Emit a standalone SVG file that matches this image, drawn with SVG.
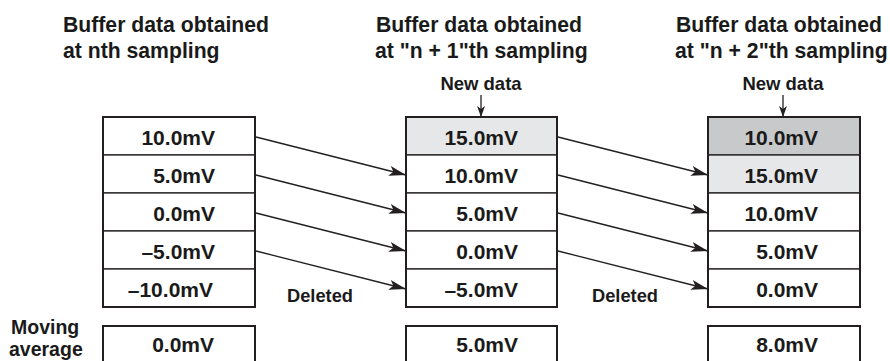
<svg xmlns="http://www.w3.org/2000/svg" width="890" height="361" viewBox="0 0 890 361">
<style>
text{font-family:"Liberation Sans",Arial,Helvetica,sans-serif;font-weight:bold;fill:#1a1a1a}
.t{font-size:21.2px}
.v{font-size:21px;text-anchor:end}
.s{font-size:18.3px}
.m{font-size:19.5px}
.c{font-size:18.5px;text-anchor:middle}
.cell{fill:#fff;stroke:#231f20;stroke-width:1.3}
.frame{fill:none;stroke:#231f20;stroke-width:2}
.g1{fill:#e6e7e8}
.g2{fill:#c8c9cb}
.con line{stroke:#231f20;stroke-width:1.3}
</style>
<defs>
<marker id="ah" markerUnits="userSpaceOnUse" markerWidth="19" markerHeight="12" refX="17" refY="5" orient="auto">
<path d="M0,0 L17,5 L0,10 L4,5 Z" fill="#231f20"/>
</marker>
<marker id="ah2" markerUnits="userSpaceOnUse" markerWidth="12" markerHeight="10" refX="11" refY="4" orient="auto">
<path d="M0,0 L11,4 L0,8 L3,4 Z" fill="#231f20"/>
</marker>
</defs>

<g id="titles">
<text class="t" x="63" y="32">Buffer data obtained</text>
<text class="t" x="63" y="58">at nth sampling</text>
<text class="t" x="376" y="32">Buffer data obtained</text>
<text class="t" x="375" y="58">at "n + 1"th sampling</text>
<text class="t" x="676" y="32">Buffer data obtained</text>
<text class="t" x="675" y="58">at "n + 2"th sampling</text>
</g>

<g id="buffer-n">
<rect class="cell" x="103" y="117" width="152" height="38"/>
<rect class="cell" x="103" y="155" width="152" height="38"/>
<rect class="cell" x="103" y="193" width="152" height="38"/>
<rect class="cell" x="103" y="231" width="152" height="38"/>
<rect class="cell" x="103" y="269" width="152" height="38"/>
<rect class="frame" x="103" y="117" width="152" height="190"/>
<text class="v" x="215" y="145">10.0mV</text>
<text class="v" x="215" y="183">5.0mV</text>
<text class="v" x="215" y="221">0.0mV</text>
<text class="v" x="215" y="259">–5.0mV</text>
<text class="v" x="213" y="297">–10.0mV</text>
</g>

<g id="buffer-n1">
<rect class="cell g1" x="406" y="117" width="151" height="38"/>
<rect class="cell" x="406" y="155" width="151" height="38"/>
<rect class="cell" x="406" y="193" width="151" height="38"/>
<rect class="cell" x="406" y="231" width="151" height="38"/>
<rect class="cell" x="406" y="269" width="151" height="38"/>
<rect class="frame" x="406" y="117" width="151" height="190"/>
<text class="v" x="518" y="145">15.0mV</text>
<text class="v" x="518" y="183">10.0mV</text>
<text class="v" x="518" y="221">5.0mV</text>
<text class="v" x="518" y="259">0.0mV</text>
<text class="v" x="518" y="297">–5.0mV</text>
</g>

<g id="buffer-n2">
<rect class="cell g2" x="708" y="117" width="152" height="38"/>
<rect class="cell g1" x="708" y="155" width="152" height="38"/>
<rect class="cell" x="708" y="193" width="152" height="38"/>
<rect class="cell" x="708" y="231" width="152" height="38"/>
<rect class="cell" x="708" y="269" width="152" height="38"/>
<rect class="frame" x="708" y="117" width="152" height="190"/>
<text class="v" x="818" y="145">10.0mV</text>
<text class="v" x="818" y="183">15.0mV</text>
<text class="v" x="818" y="221">10.0mV</text>
<text class="v" x="818" y="259">5.0mV</text>
<text class="v" x="818" y="297">0.0mV</text>
</g>

<g id="new-data-1"><text class="c" x="481" y="90">New data</text></g>
<g id="new-data-2"><text class="c" x="783" y="90">New data</text></g>
<g id="deleted-1"><text class="s" x="287" y="302">Deleted</text></g>
<g id="deleted-2"><text class="s" x="592" y="302">Deleted</text></g>

<g id="moving-average-label">
<text class="m" x="11" y="334">Moving</text>
<text class="m" x="9" y="356">average</text>
</g>
<g id="avg-n"><rect class="frame" x="103" y="326" width="152" height="44"/><text class="v" x="214" y="352">0.0mV</text></g>
<g id="avg-n1"><rect class="frame" x="406" y="326" width="151" height="44"/><text class="v" x="518" y="352">5.0mV</text></g>
<g id="avg-n2"><rect class="frame" x="708" y="326" width="152" height="44"/><text class="v" x="818" y="352">8.0mV</text></g>

<g id="connectors" class="con">
<line x1="481" y1="95" x2="481" y2="117" marker-end="url(#ah2)"/>
<line x1="783" y1="95" x2="783" y2="117" marker-end="url(#ah2)"/>
<line x1="256" y1="137" x2="406" y2="175" marker-end="url(#ah)"/>
<line x1="256" y1="175" x2="406" y2="213" marker-end="url(#ah)"/>
<line x1="256" y1="213" x2="406" y2="251" marker-end="url(#ah)"/>
<line x1="256" y1="251" x2="406" y2="289" marker-end="url(#ah)"/>
<line x1="558" y1="137" x2="708" y2="175" marker-end="url(#ah)"/>
<line x1="558" y1="175" x2="708" y2="213" marker-end="url(#ah)"/>
<line x1="558" y1="213" x2="708" y2="251" marker-end="url(#ah)"/>
<line x1="558" y1="251" x2="708" y2="289" marker-end="url(#ah)"/>
</g>
</svg>
